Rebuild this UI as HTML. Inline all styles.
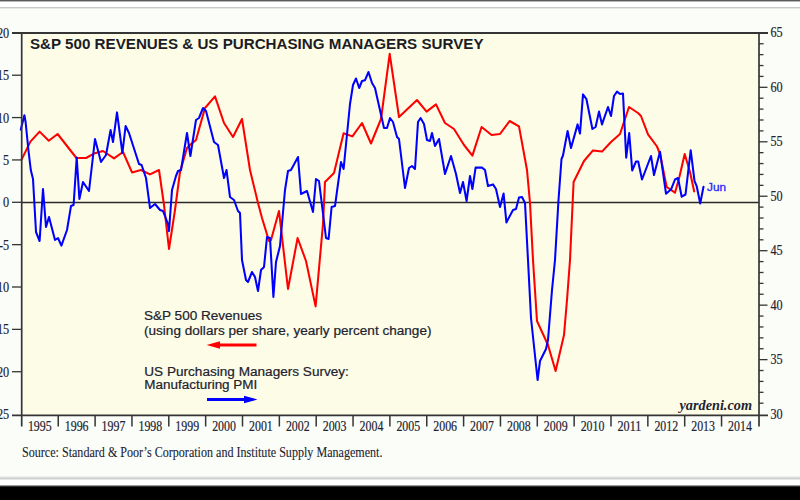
<!DOCTYPE html>
<html><head><meta charset="utf-8"><title>S&amp;P 500 Revenues &amp; US PMI</title>
<style>
html,body{margin:0;padding:0;width:800px;height:500px;overflow:hidden;background:#fbfdf9;}
svg{display:block;}
</style></head>
<body>
<svg width="800" height="500" viewBox="0 0 800 500">
<rect x="0" y="0" width="800" height="1" fill="#5a5a5a"/>
<rect x="0" y="1" width="800" height="1" fill="#b8b8b8"/>
<rect x="0" y="2" width="800" height="5" fill="#ffffff"/>
<rect x="0" y="7" width="800" height="1" fill="#c8c8c8"/>
<rect x="0" y="8" width="800" height="1" fill="#e6e8e4"/>
<rect x="0" y="476" width="800" height="1" fill="#eceeea"/>
<rect x="0" y="477" width="800" height="1" fill="#dcdcdc"/>
<rect x="0" y="478" width="800" height="1" fill="#d0d0d0"/>
<rect x="0" y="479" width="800" height="1" fill="#e6e6e6"/>
<rect x="0" y="480" width="800" height="5" fill="#ffffff"/>
<rect x="0" y="485" width="800" height="1" fill="#9a9a9a"/>
<rect x="0" y="486" width="800" height="1" fill="#303030"/>
<rect x="0" y="487" width="800" height="13" fill="#000000"/>
<rect x="22" y="33" width="737" height="382" fill="#fdfde7"/>
<line x1="22" y1="202.50" x2="759" y2="202.50" stroke="#2a2a2a" stroke-width="1.3"/>
<polyline points="21.6,159.6 30.4,141.6 39.6,131.6 48.8,140.8 57.6,134 76.4,158 86,158 94,153.6 103,151 106,153 114,158.4 123,152 132,172.4 141,170 150,174.4 159,170 164,205 169,249 175,210 180,172 187,148 190,145 196,140 205,108 215,96.4 224,123 233,137 242,119 250,170 258,203 262,218 269,241 271,240 279,211 288,289 297.6,238 306,261 315.6,306.4 323,224 325,182 334,173 343.6,133.3 352.4,136.4 362,123 371,143.5 381,119 389.7,53.8 399,117 417,100 426.6,111.6 436,104.4 445,123 454,129 464,145 472.4,155.6 481.6,127 491.6,135 500,134 509.6,121 519,126.4 527,170 530,203 533,260 537,321 548,345 555.6,371 564,335 567,300 570,260 573.6,182 584,161 593,150.4 602,151.6 611,142 620,134 629,107 638,113 641,116 648,134.4 657,146.5 660,154 666.7,187 675,192.7 679.5,176.5 684.7,154 690,172 694.2,191.5" fill="none" stroke="#ff0000" stroke-width="2.05" stroke-linejoin="round" stroke-linecap="round"/>
<polyline points="20.8,129.6 24.4,115.2 25.6,122 28.4,150 30.8,170 33,179 36,232 39.6,241 43,189 46,227 49,217 55,240 58,238 61.4,245.6 67,230 71,206 73.6,205 76.7,157.5 79.4,199 83,182 89,191 95,139 101,162 106,155 110.6,130 113,142 117,112.4 122.4,153 125.6,126 129,133 139,164 141.6,165 146,178 150,208 155,204 160,210 163,211 168,224 169,231 172,190 176,176 178,171 181,170 187,133 190.4,156 196,120 199,118 203,108 206,111 214,142 218,145 224,178 226.5,170 230,197 234,200 238,211 240,213 242,260 246,280 248,282 252,272 255,277 258,291 261,270 264,267 267,237 270,238 273.4,297 276,262 280,246 285,190 288,171 291,170 298,157 301,194 307,191 313,212 316,179 319,181 326,238 328.6,239 331.6,207 335,206 341,162 343.6,169 350,104 353,85 356,78.5 359.2,88 362,81 365,80.2 368.5,72 372,83 375,88 384,128 387,128 390,118 393,122 397,137 399,139 405,188 409,168 412,166 415,169 418,122 420.6,118 424,124 427,140 430,141 432,133 435,146 439,139 445,174 451,156 456,174 460,193 463,182 466.6,201 470,176 472.4,189 475.6,167.6 482,167.6 485,170 488,186 493,184.4 496,189 500,207 503.6,193.6 506.4,222.4 513,210 516,209 519,197.6 522,197 525,203 528,260 531,318 537.6,380 540,361 546,349 548,340 549.6,320 552,290 555,260 558.5,200 561.5,159 563,155.5 567.6,131 571,148 577.6,124.4 580,133.6 583,94.4 586.4,99 592.4,129 595.6,127 599,111.6 602,124.4 608,107 611,116 614,96 617,91.6 620,94 623,93.6 626.2,157.7 629.2,133 632.2,170.5 636,161.5 638.2,161.5 642,179.5 651,156 654,175 660,151.7 666,193.7 671.2,189.2 675,179.5 678,178 681.7,196.7 685.5,194.5 690.7,150.2 694.5,181 696.7,186.2 700.2,203.5 703.5,186.7" fill="none" stroke="#0000ff" stroke-width="2.05" stroke-linejoin="round" stroke-linecap="round"/>
<g stroke="#353535" fill="none">
<line x1="12" y1="33.0" x2="768" y2="33.0" stroke-width="2"/>
<line x1="12" y1="415.4" x2="768" y2="415.4" stroke-width="1.8"/>
<line x1="21.7" y1="32.0" x2="21.7" y2="426.5" stroke-width="1.7"/>
<line x1="759" y1="32.0" x2="759" y2="426.5" stroke-width="1.7"/>
<line x1="12" y1="75.21" x2="22" y2="75.21" stroke-width="1.3"/>
<line x1="12" y1="117.57" x2="22" y2="117.57" stroke-width="1.3"/>
<line x1="12" y1="159.93" x2="22" y2="159.93" stroke-width="1.3"/>
<line x1="12" y1="202.29" x2="22" y2="202.29" stroke-width="1.3"/>
<line x1="12" y1="244.65" x2="22" y2="244.65" stroke-width="1.3"/>
<line x1="12" y1="287.01" x2="22" y2="287.01" stroke-width="1.3"/>
<line x1="12" y1="329.37" x2="22" y2="329.37" stroke-width="1.3"/>
<line x1="12" y1="371.73" x2="22" y2="371.73" stroke-width="1.3"/>
<line x1="759" y1="43.74" x2="763.5" y2="43.74" stroke-width="1.3"/>
<line x1="759" y1="54.64" x2="763.5" y2="54.64" stroke-width="1.3"/>
<line x1="759" y1="65.53" x2="763.5" y2="65.53" stroke-width="1.3"/>
<line x1="759" y1="76.42" x2="763.5" y2="76.42" stroke-width="1.3"/>
<line x1="759" y1="87.31" x2="767.5" y2="87.31" stroke-width="1.3"/>
<line x1="759" y1="98.21" x2="763.5" y2="98.21" stroke-width="1.3"/>
<line x1="759" y1="109.10" x2="763.5" y2="109.10" stroke-width="1.3"/>
<line x1="759" y1="119.99" x2="763.5" y2="119.99" stroke-width="1.3"/>
<line x1="759" y1="130.88" x2="763.5" y2="130.88" stroke-width="1.3"/>
<line x1="759" y1="141.78" x2="767.5" y2="141.78" stroke-width="1.3"/>
<line x1="759" y1="152.67" x2="763.5" y2="152.67" stroke-width="1.3"/>
<line x1="759" y1="163.56" x2="763.5" y2="163.56" stroke-width="1.3"/>
<line x1="759" y1="174.45" x2="763.5" y2="174.45" stroke-width="1.3"/>
<line x1="759" y1="185.35" x2="763.5" y2="185.35" stroke-width="1.3"/>
<line x1="759" y1="196.24" x2="767.5" y2="196.24" stroke-width="1.3"/>
<line x1="759" y1="207.13" x2="763.5" y2="207.13" stroke-width="1.3"/>
<line x1="759" y1="218.02" x2="763.5" y2="218.02" stroke-width="1.3"/>
<line x1="759" y1="228.92" x2="763.5" y2="228.92" stroke-width="1.3"/>
<line x1="759" y1="239.81" x2="763.5" y2="239.81" stroke-width="1.3"/>
<line x1="759" y1="250.70" x2="767.5" y2="250.70" stroke-width="1.3"/>
<line x1="759" y1="261.59" x2="763.5" y2="261.59" stroke-width="1.3"/>
<line x1="759" y1="272.49" x2="763.5" y2="272.49" stroke-width="1.3"/>
<line x1="759" y1="283.38" x2="763.5" y2="283.38" stroke-width="1.3"/>
<line x1="759" y1="294.27" x2="763.5" y2="294.27" stroke-width="1.3"/>
<line x1="759" y1="305.16" x2="767.5" y2="305.16" stroke-width="1.3"/>
<line x1="759" y1="316.06" x2="763.5" y2="316.06" stroke-width="1.3"/>
<line x1="759" y1="326.95" x2="763.5" y2="326.95" stroke-width="1.3"/>
<line x1="759" y1="337.84" x2="763.5" y2="337.84" stroke-width="1.3"/>
<line x1="759" y1="348.73" x2="763.5" y2="348.73" stroke-width="1.3"/>
<line x1="759" y1="359.63" x2="767.5" y2="359.63" stroke-width="1.3"/>
<line x1="759" y1="370.52" x2="763.5" y2="370.52" stroke-width="1.3"/>
<line x1="759" y1="381.41" x2="763.5" y2="381.41" stroke-width="1.3"/>
<line x1="759" y1="392.30" x2="763.5" y2="392.30" stroke-width="1.3"/>
<line x1="759" y1="403.20" x2="763.5" y2="403.20" stroke-width="1.3"/>
<line x1="58.25" y1="415.4" x2="58.25" y2="426.5" stroke-width="1.5"/>
<line x1="95.10" y1="415.4" x2="95.10" y2="426.5" stroke-width="1.5"/>
<line x1="131.95" y1="415.4" x2="131.95" y2="426.5" stroke-width="1.5"/>
<line x1="168.80" y1="415.4" x2="168.80" y2="426.5" stroke-width="1.5"/>
<line x1="205.65" y1="415.4" x2="205.65" y2="426.5" stroke-width="1.5"/>
<line x1="242.50" y1="415.4" x2="242.50" y2="426.5" stroke-width="1.5"/>
<line x1="279.35" y1="415.4" x2="279.35" y2="426.5" stroke-width="1.5"/>
<line x1="316.20" y1="415.4" x2="316.20" y2="426.5" stroke-width="1.5"/>
<line x1="353.05" y1="415.4" x2="353.05" y2="426.5" stroke-width="1.5"/>
<line x1="389.90" y1="415.4" x2="389.90" y2="426.5" stroke-width="1.5"/>
<line x1="426.75" y1="415.4" x2="426.75" y2="426.5" stroke-width="1.5"/>
<line x1="463.60" y1="415.4" x2="463.60" y2="426.5" stroke-width="1.5"/>
<line x1="500.45" y1="415.4" x2="500.45" y2="426.5" stroke-width="1.5"/>
<line x1="537.30" y1="415.4" x2="537.30" y2="426.5" stroke-width="1.5"/>
<line x1="574.15" y1="415.4" x2="574.15" y2="426.5" stroke-width="1.5"/>
<line x1="611.00" y1="415.4" x2="611.00" y2="426.5" stroke-width="1.5"/>
<line x1="647.85" y1="415.4" x2="647.85" y2="426.5" stroke-width="1.5"/>
<line x1="684.70" y1="415.4" x2="684.70" y2="426.5" stroke-width="1.5"/>
<line x1="721.55" y1="415.4" x2="721.55" y2="426.5" stroke-width="1.5"/>
</g>
<text x="30" y="49.3" style="font-family:'Liberation Sans',sans-serif;font-weight:bold;font-size:14px" fill="#1c1c26" textLength="453.5" lengthAdjust="spacingAndGlyphs">S&amp;P 500 REVENUES &amp; US PURCHASING MANAGERS SURVEY</text>
<text x="0" y="37.85" text-anchor="end" style="font-family:'Liberation Serif',serif;font-size:15px" fill="#222230" stroke="#222230" stroke-width="0.2" transform="translate(9.2 0) scale(0.82 1)">20</text>
<text x="0" y="80.21" text-anchor="end" style="font-family:'Liberation Serif',serif;font-size:15px" fill="#222230" stroke="#222230" stroke-width="0.2" transform="translate(9.2 0) scale(0.82 1)">15</text>
<text x="0" y="122.57" text-anchor="end" style="font-family:'Liberation Serif',serif;font-size:15px" fill="#222230" stroke="#222230" stroke-width="0.2" transform="translate(9.2 0) scale(0.82 1)">10</text>
<text x="0" y="164.93" text-anchor="end" style="font-family:'Liberation Serif',serif;font-size:15px" fill="#222230" stroke="#222230" stroke-width="0.2" transform="translate(9.2 0) scale(0.82 1)">5</text>
<text x="0" y="207.29" text-anchor="end" style="font-family:'Liberation Serif',serif;font-size:15px" fill="#222230" stroke="#222230" stroke-width="0.2" transform="translate(9.2 0) scale(0.82 1)">0</text>
<text x="0" y="249.65" text-anchor="end" style="font-family:'Liberation Serif',serif;font-size:15px" fill="#222230" stroke="#222230" stroke-width="0.2" transform="translate(9.2 0) scale(0.82 1)">-5</text>
<text x="0" y="292.01" text-anchor="end" style="font-family:'Liberation Serif',serif;font-size:15px" fill="#222230" stroke="#222230" stroke-width="0.2" transform="translate(9.2 0) scale(0.82 1)">-10</text>
<text x="0" y="334.37" text-anchor="end" style="font-family:'Liberation Serif',serif;font-size:15px" fill="#222230" stroke="#222230" stroke-width="0.2" transform="translate(9.2 0) scale(0.82 1)">-15</text>
<text x="0" y="376.73" text-anchor="end" style="font-family:'Liberation Serif',serif;font-size:15px" fill="#222230" stroke="#222230" stroke-width="0.2" transform="translate(9.2 0) scale(0.82 1)">-20</text>
<text x="0" y="419.09" text-anchor="end" style="font-family:'Liberation Serif',serif;font-size:15px" fill="#222230" stroke="#222230" stroke-width="0.2" transform="translate(9.2 0) scale(0.82 1)">-25</text>
<text x="770.5" y="37.35" style="font-family:'Liberation Serif',serif;font-size:15px" fill="#222230" stroke="#222230" stroke-width="0.2" textLength="12.2" lengthAdjust="spacingAndGlyphs">65</text>
<text x="770.5" y="91.81" style="font-family:'Liberation Serif',serif;font-size:15px" fill="#222230" stroke="#222230" stroke-width="0.2" textLength="12.2" lengthAdjust="spacingAndGlyphs">60</text>
<text x="770.5" y="146.28" style="font-family:'Liberation Serif',serif;font-size:15px" fill="#222230" stroke="#222230" stroke-width="0.2" textLength="12.2" lengthAdjust="spacingAndGlyphs">55</text>
<text x="770.5" y="200.74" style="font-family:'Liberation Serif',serif;font-size:15px" fill="#222230" stroke="#222230" stroke-width="0.2" textLength="12.2" lengthAdjust="spacingAndGlyphs">50</text>
<text x="770.5" y="255.20" style="font-family:'Liberation Serif',serif;font-size:15px" fill="#222230" stroke="#222230" stroke-width="0.2" textLength="12.2" lengthAdjust="spacingAndGlyphs">45</text>
<text x="770.5" y="309.66" style="font-family:'Liberation Serif',serif;font-size:15px" fill="#222230" stroke="#222230" stroke-width="0.2" textLength="12.2" lengthAdjust="spacingAndGlyphs">40</text>
<text x="770.5" y="364.13" style="font-family:'Liberation Serif',serif;font-size:15px" fill="#222230" stroke="#222230" stroke-width="0.2" textLength="12.2" lengthAdjust="spacingAndGlyphs">35</text>
<text x="770.5" y="418.59" style="font-family:'Liberation Serif',serif;font-size:15px" fill="#222230" stroke="#222230" stroke-width="0.2" textLength="12.2" lengthAdjust="spacingAndGlyphs">30</text>
<text x="27.93" y="430.7" style="font-family:'Liberation Serif',serif;font-size:15px" fill="#222230" stroke="#222230" stroke-width="0.2" textLength="23.8" lengthAdjust="spacingAndGlyphs">1995</text>
<text x="64.78" y="430.7" style="font-family:'Liberation Serif',serif;font-size:15px" fill="#222230" stroke="#222230" stroke-width="0.2" textLength="23.8" lengthAdjust="spacingAndGlyphs">1996</text>
<text x="101.62" y="430.7" style="font-family:'Liberation Serif',serif;font-size:15px" fill="#222230" stroke="#222230" stroke-width="0.2" textLength="23.8" lengthAdjust="spacingAndGlyphs">1997</text>
<text x="138.47" y="430.7" style="font-family:'Liberation Serif',serif;font-size:15px" fill="#222230" stroke="#222230" stroke-width="0.2" textLength="23.8" lengthAdjust="spacingAndGlyphs">1998</text>
<text x="175.33" y="430.7" style="font-family:'Liberation Serif',serif;font-size:15px" fill="#222230" stroke="#222230" stroke-width="0.2" textLength="23.8" lengthAdjust="spacingAndGlyphs">1999</text>
<text x="212.18" y="430.7" style="font-family:'Liberation Serif',serif;font-size:15px" fill="#222230" stroke="#222230" stroke-width="0.2" textLength="23.8" lengthAdjust="spacingAndGlyphs">2000</text>
<text x="249.03" y="430.7" style="font-family:'Liberation Serif',serif;font-size:15px" fill="#222230" stroke="#222230" stroke-width="0.2" textLength="23.8" lengthAdjust="spacingAndGlyphs">2001</text>
<text x="285.88" y="430.7" style="font-family:'Liberation Serif',serif;font-size:15px" fill="#222230" stroke="#222230" stroke-width="0.2" textLength="23.8" lengthAdjust="spacingAndGlyphs">2002</text>
<text x="322.73" y="430.7" style="font-family:'Liberation Serif',serif;font-size:15px" fill="#222230" stroke="#222230" stroke-width="0.2" textLength="23.8" lengthAdjust="spacingAndGlyphs">2003</text>
<text x="359.57" y="430.7" style="font-family:'Liberation Serif',serif;font-size:15px" fill="#222230" stroke="#222230" stroke-width="0.2" textLength="23.8" lengthAdjust="spacingAndGlyphs">2004</text>
<text x="396.43" y="430.7" style="font-family:'Liberation Serif',serif;font-size:15px" fill="#222230" stroke="#222230" stroke-width="0.2" textLength="23.8" lengthAdjust="spacingAndGlyphs">2005</text>
<text x="433.28" y="430.7" style="font-family:'Liberation Serif',serif;font-size:15px" fill="#222230" stroke="#222230" stroke-width="0.2" textLength="23.8" lengthAdjust="spacingAndGlyphs">2006</text>
<text x="470.12" y="430.7" style="font-family:'Liberation Serif',serif;font-size:15px" fill="#222230" stroke="#222230" stroke-width="0.2" textLength="23.8" lengthAdjust="spacingAndGlyphs">2007</text>
<text x="506.98" y="430.7" style="font-family:'Liberation Serif',serif;font-size:15px" fill="#222230" stroke="#222230" stroke-width="0.2" textLength="23.8" lengthAdjust="spacingAndGlyphs">2008</text>
<text x="543.83" y="430.7" style="font-family:'Liberation Serif',serif;font-size:15px" fill="#222230" stroke="#222230" stroke-width="0.2" textLength="23.8" lengthAdjust="spacingAndGlyphs">2009</text>
<text x="580.68" y="430.7" style="font-family:'Liberation Serif',serif;font-size:15px" fill="#222230" stroke="#222230" stroke-width="0.2" textLength="23.8" lengthAdjust="spacingAndGlyphs">2010</text>
<text x="617.52" y="430.7" style="font-family:'Liberation Serif',serif;font-size:15px" fill="#222230" stroke="#222230" stroke-width="0.2" textLength="23.8" lengthAdjust="spacingAndGlyphs">2011</text>
<text x="654.38" y="430.7" style="font-family:'Liberation Serif',serif;font-size:15px" fill="#222230" stroke="#222230" stroke-width="0.2" textLength="23.8" lengthAdjust="spacingAndGlyphs">2012</text>
<text x="691.23" y="430.7" style="font-family:'Liberation Serif',serif;font-size:15px" fill="#222230" stroke="#222230" stroke-width="0.2" textLength="23.8" lengthAdjust="spacingAndGlyphs">2013</text>
<text x="728.08" y="430.7" style="font-family:'Liberation Serif',serif;font-size:15px" fill="#222230" stroke="#222230" stroke-width="0.2" textLength="23.8" lengthAdjust="spacingAndGlyphs">2014</text>
<text x="22" y="457" style="font-family:'Liberation Serif',serif;font-size:14.5px" fill="#222230" stroke="#222230" stroke-width="0.1" textLength="360.5" lengthAdjust="spacingAndGlyphs">Source: Standard &amp; Poor’s Corporation and Institute Supply Management.</text>
<text x="679.5" y="409.7" style="font-family:'Liberation Serif',serif;font-size:14px;font-weight:bold;font-style:italic" fill="#222230" textLength="72.5" lengthAdjust="spacingAndGlyphs">yardeni.com</text>
<text x="144" y="320.4" style="font-family:'Liberation Sans',sans-serif;font-size:12px" fill="#222230" stroke="#222230" stroke-width="0.2" textLength="118" lengthAdjust="spacingAndGlyphs">S&amp;P 500 Revenues</text>
<text x="144" y="334.8" style="font-family:'Liberation Sans',sans-serif;font-size:12px" fill="#222230" stroke="#222230" stroke-width="0.2" textLength="287.5" lengthAdjust="spacingAndGlyphs">(using dollars per share, yearly percent change)</text>
<text x="144.3" y="376.1" style="font-family:'Liberation Sans',sans-serif;font-size:12px" fill="#222230" stroke="#222230" stroke-width="0.2" textLength="204.6" lengthAdjust="spacingAndGlyphs">US Purchasing Managers Survey:</text>
<text x="144.3" y="389.3" style="font-family:'Liberation Sans',sans-serif;font-size:12px" fill="#222230" stroke="#222230" stroke-width="0.2" textLength="113" lengthAdjust="spacingAndGlyphs">Manufacturing PMI</text>
<line x1="217" y1="345" x2="256.5" y2="345" stroke="#ff0000" stroke-width="3"/>
<polygon points="206.5,345 220,341.3 220,348.7" fill="#ff0000"/>
<line x1="207" y1="399.5" x2="246" y2="399.5" stroke="#0000ff" stroke-width="3"/>
<polygon points="257.5,399.5 244,395.8 244,403.2" fill="#0000ff"/>
<text x="707" y="190.7" style="font-family:'Liberation Sans',sans-serif;font-size:10px" fill="#2a2aff" stroke="#2a2aff" stroke-width="0.3" textLength="19" lengthAdjust="spacingAndGlyphs">Jun</text>
</svg>
</body></html>
